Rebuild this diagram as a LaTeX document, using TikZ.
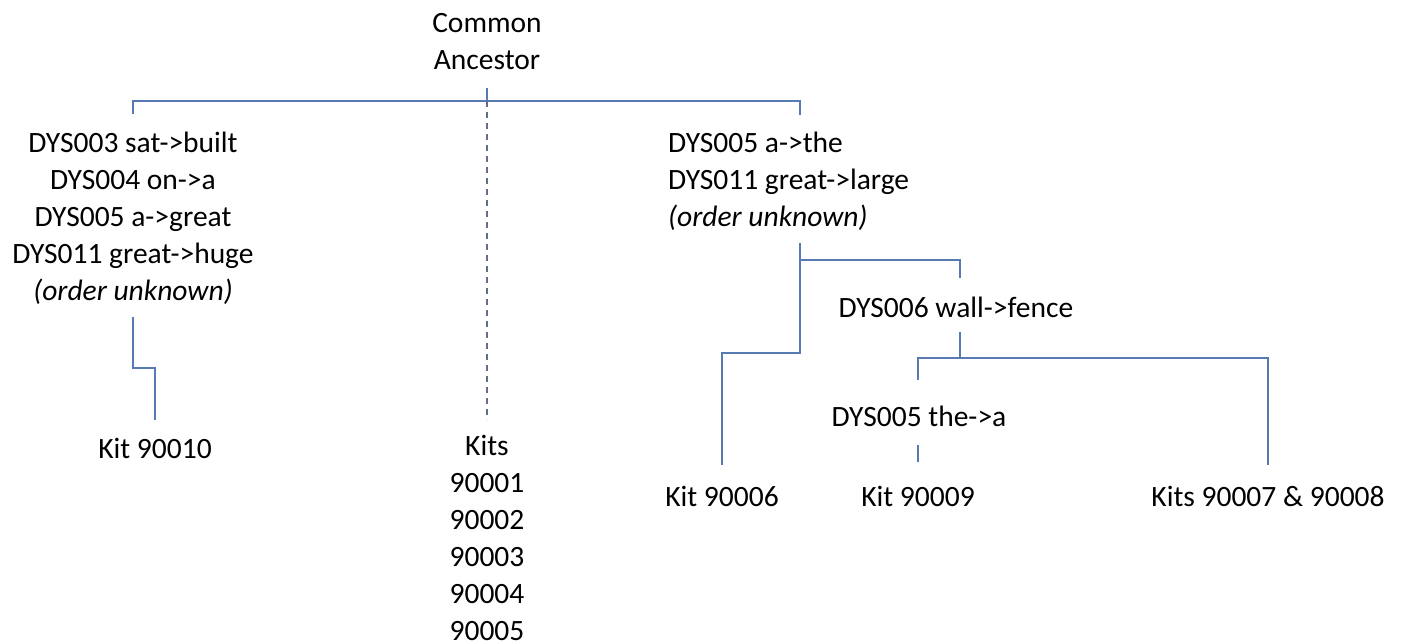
\documentclass[tikz,border=0pt]{standalone}
\usepackage{fontspec}
\setmainfont{Carlito}
\begin{document}
\begin{tikzpicture}[x=1pt,y=-1pt,
  lbl/.style={inner sep=0pt,font=\fontsize{29.5}{37}\selectfont},
  link/.style={draw={rgb,255:red,88;green,122;blue,178},line width=1.4pt},
  dlink/.style={link,draw={rgb,255:red,100;green,110;blue,135},dashed,dash pattern=on 6pt off 5pt}]
\useasboundingbox (0,0) rectangle (1402,643);
% nodes
\node[lbl,align=center] (ca) at (487,42) {Common\\Ancestor};
\node[lbl,align=center] (L) at (133,218) {DYS003 sat->built\\DYS004 on->a\\DYS005 a->great\\DYS011 great->huge\\\textit{(order unknown)}};
\node[lbl,align=left,anchor=west] (R) at (668,181) {DYS005 a->the\\DYS011 great->large\\\textit{(order unknown)}};
\node[lbl] (k10) at (155,448) {Kit 90010};
\node[lbl,align=center] (k15) at (487,538) {Kits\\90001\\90002\\90003\\90004\\90005};
\node[lbl] (d6) at (956,307) {DYS006 wall->fence};
\node[lbl] (d5) at (919,416) {DYS005 the->a};
\node[lbl] (k6) at (722,496) {Kit 90006};
\node[lbl] (k9) at (918,496) {Kit 90009};
\node[lbl] (k78) at (1268,496) {Kits 90007 \& 90008};
% coordinates
\coordinate (caB) at (487,88);
\coordinate (top) at (487,101);
\coordinate (tl) at (133,101);
\coordinate (tr) at (800,101);
\coordinate (tlE) at (133,114);
\coordinate (trE) at (800,115);
\coordinate (dashE) at (487,420);
\coordinate (lA) at (133,317);
\coordinate (lB) at (133,368);
\coordinate (lC) at (155,368);
\coordinate (lD) at (155,420);
\coordinate (rA) at (800,243);
\coordinate (rB) at (800,353);
\coordinate (rJ) at (800,260);
\coordinate (rK) at (960,260);
\coordinate (rL) at (960,278);
\coordinate (sA) at (960,332);
\coordinate (sB) at (960,358);
\coordinate (sL) at (918,358);
\coordinate (sR) at (1268,358);
\coordinate (sLE) at (918,380);
\coordinate (sRE) at (1268,465);
\coordinate (tA) at (918,445);
\coordinate (tB) at (918,462);
\coordinate (uA) at (722,353);
\coordinate (uB) at (722,465);
% connectors
\draw[link] (caB) -- (top);
\draw[link] (tlE) -- (tl) -- (tr) -- (trE);
\draw[dlink] (top) -- (dashE);
\draw[link] (lA) -- (lB) -- (lC) -- (lD);
\draw[link] (rA) -- (rB) -- (uA) -- (uB);
\draw[link] (rJ) -- (rK) -- (rL);
\draw[link] (sA) -- (sB);
\draw[link] (sLE) -- (sL) -- (sR) -- (sRE);
\draw[link] (tA) -- (tB);
\end{tikzpicture}
\end{document}
